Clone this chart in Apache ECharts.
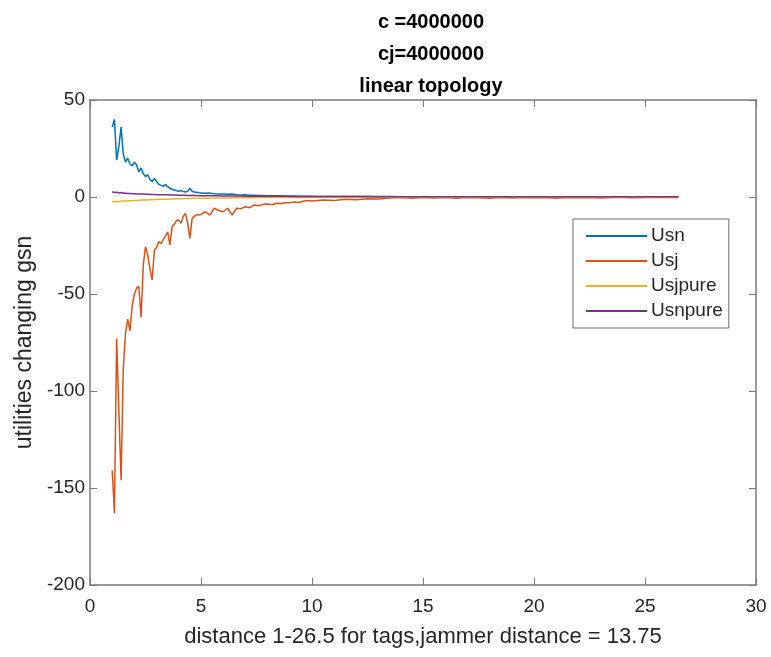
<!DOCTYPE html>
<html>
<head>
<meta charset="utf-8">
<script src="https://cdn.jsdelivr.net/npm/echarts@6/dist/echarts.min.js"></script>
<style>
  html, body { margin: 0; padding: 0; background: #fff; }
  #chart { width: 771px; height: 657px; }
</style>
</head>
<body>
<div id="chart"></div>
<script>
// distance of the tags (x)
const distance = [
  1.0, 1.1, 1.2, 1.3, 1.4, 1.5, 1.6, 1.7, 1.8, 1.9,
  2.0, 2.1, 2.2, 2.3, 2.4, 2.5, 2.6, 2.7, 2.8, 2.9,
  3.0, 3.1, 3.2, 3.3, 3.4, 3.5, 3.6, 3.7, 3.8, 3.9,
  4.0, 4.1, 4.2, 4.3, 4.4, 4.5, 4.6, 4.7, 4.8, 4.9,
  5.0,
  5.2, 5.4, 5.6, 5.8, 6.0, 6.2, 6.4, 6.6, 6.8, 7.0,
  7.2, 7.4, 7.6, 7.8, 8.0, 8.2, 8.4, 8.6, 8.8, 9.0,
  9.2, 9.4, 9.6, 9.8, 10.0,
  10.5, 11, 11.5, 12, 12.5, 13, 13.5, 14, 14.5, 15,
  15.5, 16, 16.5, 17, 17.5, 18, 18.5, 19, 19.5, 20,
  20.5, 21, 21.5, 22, 22.5, 23, 23.5, 24, 24.5, 25,
  25.5, 26, 26.5
];

const usn = [
  36, 40, 19, 26, 36, 22, 18, 20, 17, 16,
  18, 16.5, 13, 15, 12, 10.5, 11.5, 9, 8, 9.6,
  8, 6.5, 6, 5.5, 6.5, 5.3, 4.5, 4, 3.6, 3.2,
  3, 3.3, 2.8, 2.6, 2.9, 4.5, 3, 2.6, 2.4, 2.2,
  2.1,
  1.9, 2, 1.7, 1.6, 1.5, 1.4, 1.5, 1.2, 1.0, 1.1,
  0.9, 0.9, 0.8, 0.8, 0.7, 0.7, 0.6, 0.6, 0.5, 0.5,
  0.5, 0.4, 0.4, 0.4, 0.35,
  0.3, 0.3, 0.25, 0.25, 0.2, 0.2, 0.2, 0.18, 0.15, 0.15,
  0.15, 0.12, 0.12, 0.12, 0.1, 0.1, 0.1, 0.1, 0.08, 0.08,
  0.08, 0.08, 0.07, 0.07, 0.07, 0.06, 0.06, 0.06, 0.06, 0.05,
  0.05, 0.05, 0.05
];

const usj = [
  -141, -163, -73, -110, -146, -88, -70, -63, -69, -56,
  -50, -47, -46, -62, -35, -25.6, -30, -37, -42.8, -27.3,
  -26, -23, -24, -22, -20, -18, -24.7, -15.3, -14, -12,
  -11.9, -13.6, -10, -8.4, -13.6, -21.3, -11, -10, -9, -9.3,
  -9,
  -7.6, -9.3, -5.8, -7, -7.6, -5.8, -9.3, -5.8, -6, -5,
  -5.5, -4.1, -4.5, -3.8, -3.6, -4, -3.2, -3.4, -3, -2.9,
  -2.6, -2.8, -2.2, -1.8, -2,
  -1.6, -1.8, -1.2, -1.4, -0.9, -1, -0.5, -0.3, -0.6, -0.2,
  -0.5, -0.3, -0.7, -0.2, -0.4, -0.6, -0.3, -0.5, -0.2, -0.4,
  -0.3, -0.6, -0.2, -0.4, -0.3, -0.5, -0.2, -0.3, -0.4, -0.2,
  -0.3, -0.2, -0.2
];

const usjpure = [
  -2.5, -2.4, -2.4, -2.3, -2.2, -2.1, -2.1, -2.0, -1.9, -1.9,
  -1.8, -1.8, -1.7, -1.6, -1.6, -1.5, -1.5, -1.4, -1.4, -1.3,
  -1.3, -1.2, -1.2, -1.1, -1.1, -1.1, -1.0, -1.0, -1.0, -0.9,
  -0.9, -0.9, -0.8, -0.8, -0.8, -0.8, -0.7, -0.7, -0.7, -0.7,
  -0.6,
  -0.6, -0.6, -0.5, -0.5, -0.5, -0.5, -0.4, -0.4, -0.4, -0.4,
  -0.35, -0.35, -0.3, -0.3, -0.3, -0.3, -0.25, -0.25, -0.25, -0.25,
  -0.2, -0.2, -0.2, -0.2, -0.2,
  -0.18, -0.17, -0.15, -0.14, -0.13, -0.12, -0.11, -0.1, -0.1, -0.09,
  -0.09, -0.08, -0.08, -0.07, -0.07, -0.07, -0.06, -0.06, -0.06, -0.05,
  -0.05, -0.05, -0.05, -0.04, -0.04, -0.04, -0.04, -0.04, -0.03, -0.03,
  -0.03, -0.03, -0.03
];

const usnpure = [
  2.7, 2.3, 2.5, 2.1, 2.3, 1.9, 2.0, 1.8, 1.8, 1.7,
  1.7, 1.6, 1.6, 1.5, 1.5, 1.4, 1.4, 1.3, 1.3, 1.3,
  1.2, 1.2, 1.2, 1.1, 1.1, 1.1, 1.0, 1.0, 1.0, 1.0,
  0.9, 0.9, 0.9, 0.9, 0.8, 0.8, 0.8, 0.8, 0.8, 0.7,
  0.7,
  0.7, 0.65, 0.6, 0.6, 0.55, 0.55, 0.5, 0.5, 0.5, 0.45,
  0.45, 0.42, 0.4, 0.4, 0.38, 0.36, 0.35, 0.34, 0.33, 0.32,
  0.3, 0.3, 0.29, 0.28, 0.27,
  0.25, 0.24, 0.22, 0.21, 0.2, 0.19, 0.18, 0.17, 0.16, 0.15,
  0.15, 0.14, 0.13, 0.13, 0.12, 0.12, 0.11, 0.11, 0.1, 0.1,
  0.1, 0.09, 0.09, 0.09, 0.08, 0.08, 0.08, 0.08, 0.07, 0.07,
  0.07, 0.07, 0.07
];

const seriesNames = ['Usn', 'Usj', 'Usjpure', 'Usnpure'];
const seriesColors = ['#0072BD', '#D95319', '#EDB120', '#7E2F8E'];
const seriesValues = [usn, usj, usjpure, usnpure];

const titleLines = ['c =4000000', 'cj=4000000', 'linear topology'];
const xName = 'distance 1-26.5 for tags,jammer distance = 13.75';
const yName = 'utilities changing gsn';

const FONT = '"Liberation Sans", Arial, sans-serif';
const AXIS_COLOR = '#7a7a7a';
const TEXT_COLOR = '#262626';

const pairs = vals => distance.map((d, i) => [d, vals[i]]);

const chart = echarts.init(document.getElementById('chart'), null, { renderer: 'canvas' });

const tickStyle = { show: true, inside: true, length: 7, lineStyle: { color: AXIS_COLOR, width: 1 } };
const lineStyleAxis = { show: true, onZero: false, lineStyle: { color: AXIS_COLOR, width: 1.5 } };

chart.setOption({
  animation: false,
  backgroundColor: '#ffffff',
  textStyle: { fontFamily: FONT },
  title: {
    text: titleLines.join('\n'),
    left: 426,
    top: 1,
    textAlign: 'center',
    textStyle: {
      fontFamily: FONT,
      fontWeight: 'bold',
      fontSize: 20,
      lineHeight: 32,
      color: '#000'
    }
  },
  legend: {
    orient: 'vertical',
    left: 573,
    top: 219,
    padding: [7, 6, 7, 13],
    itemGap: 5,
    itemWidth: 61,
    itemHeight: 2,
    icon: 'rect',
    backgroundColor: '#fff',
    borderColor: '#6e6e6e',
    borderWidth: 1,
    borderRadius: 0,
    textStyle: { fontFamily: FONT, fontSize: 19, color: TEXT_COLOR, lineHeight: 20, padding: [0, 0, 0, -1] },
    data: seriesNames
  },
  grid: { left: 90, right: 15, top: 100, bottom: 72, containLabel: false },
  xAxis: [
    {
      type: 'value', min: 0, max: 30, interval: 5, position: 'bottom',
      name: xName, nameLocation: 'middle', nameGap: 41,
      nameTextStyle: { fontFamily: FONT, fontSize: 22, color: TEXT_COLOR },
      axisLine: lineStyleAxis, axisTick: tickStyle,
      axisLabel: { fontFamily: FONT, fontSize: 19, color: TEXT_COLOR, margin: 12 },
      splitLine: { show: false }
    },
    {
      type: 'value', min: 0, max: 30, interval: 5, position: 'top',
      axisLine: lineStyleAxis, axisTick: tickStyle,
      axisLabel: { show: false }, splitLine: { show: false }
    }
  ],
  yAxis: [
    {
      type: 'value', min: -200, max: 50, interval: 50, position: 'left',
      name: yName, nameLocation: 'middle', nameGap: 47, nameRotate: 90,
      nameTextStyle: { fontFamily: FONT, fontSize: 23, color: TEXT_COLOR },
      axisLine: lineStyleAxis, axisTick: tickStyle,
      axisLabel: { fontFamily: FONT, fontSize: 19, color: TEXT_COLOR, margin: 5 },
      splitLine: { show: false }
    },
    {
      type: 'value', min: -200, max: 50, interval: 50, position: 'right',
      axisLine: lineStyleAxis, axisTick: tickStyle,
      axisLabel: { show: false }, splitLine: { show: false }
    }
  ],
  series: seriesNames.map((name, k) => ({
    name,
    type: 'line',
    xAxisIndex: 0,
    yAxisIndex: 0,
    data: pairs(seriesValues[k]),
    showSymbol: false,
    symbol: 'none',
    color: seriesColors[k],
    lineStyle: { width: 1.5, color: seriesColors[k] },
    z: 2 + k
  }))
});
</script>
</body>
</html>
